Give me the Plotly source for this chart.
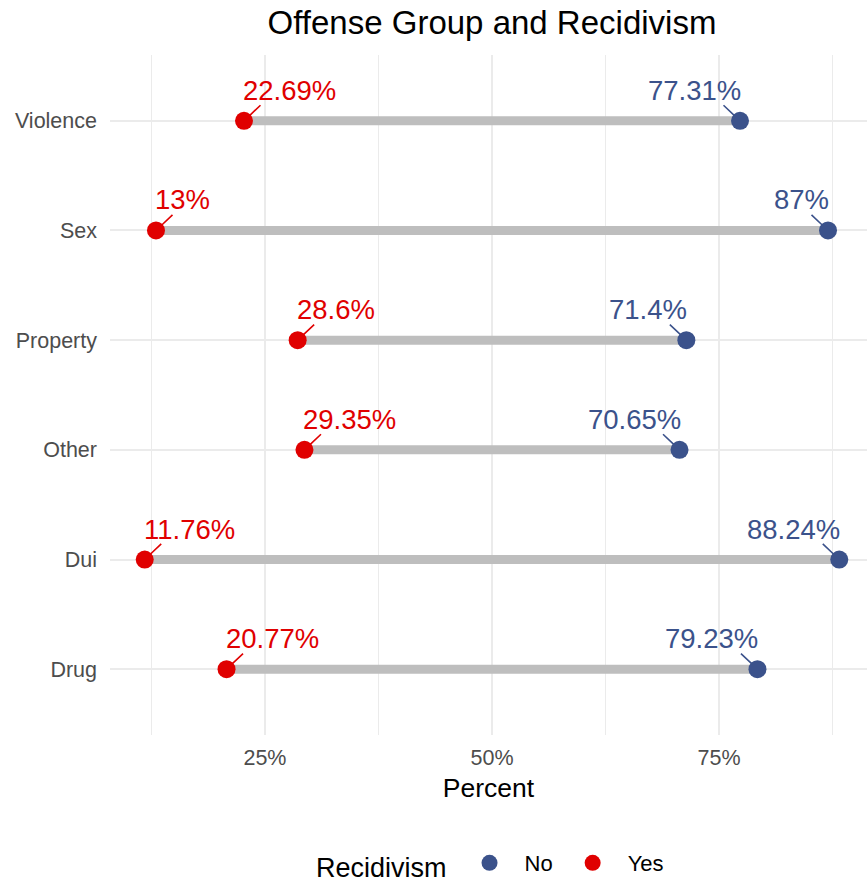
import plotly.graph_objects as go

# ---- data ----
categories = ["Drug", "Dui", "Other", "Property", "Sex", "Violence"]
no_pct = [79.23, 88.24, 70.65, 71.4, 87.0, 77.31]
yes_pct = [20.77, 11.76, 29.35, 28.6, 13.0, 22.69]
no_labels = ["79.23%", "88.24%", "70.65%", "71.4%", "87%", "77.31%"]
yes_labels = ["20.77%", "11.76%", "29.35%", "28.6%", "13%", "22.69%"]
x_tick_vals = [25, 50, 75]
x_tick_text = ["25%", "50%", "75%"]

RED = "#E00000"
BLUE = "#3B528B"
FONT = "Liberation Sans, Arial, sans-serif"

W, H = 867, 882
ML, MR, MT, MB = 110, 0, 55, 147

# x range like ggplot expansion (5%) of data range
lo = min(yes_pct + no_pct)
hi = max(yes_pct + no_pct)
pad = (hi - lo) * 0.05
full_lo, full_hi = lo - pad, hi + pad
panel_px_full = 764  # ggplot panel wider than canvas; clip at right edge
x_hi = full_lo + (W - ML - MR) * (full_hi - full_lo) / panel_px_full
x_range = [full_lo, x_hi]

fig = go.Figure()

# segments
seg_x, seg_y = [], []
for c, y_, n_ in zip(categories, yes_pct, no_pct):
    seg_x += [y_, n_, None]
    seg_y += [c, c, None]
fig.add_trace(go.Scatter(x=seg_x, y=seg_y, mode="lines",
                         line=dict(color="#BEBEBE", width=9),
                         showlegend=False, hoverinfo="skip"))

fig.add_trace(go.Scatter(x=no_pct, y=categories, mode="markers", name="No",
                         marker=dict(color=BLUE, size=18)))
fig.add_trace(go.Scatter(x=yes_pct, y=categories, mode="markers", name="Yes",
                         marker=dict(color=RED, size=18)))

annotations = []
for vals, labels, col, sign, anchor in [(yes_pct, yes_labels, RED, 1, "left"),
                                        (no_pct, no_labels, BLUE, -1, "right")]:
    for c, v, t in zip(categories, vals, labels):
        # leader segment
        annotations.append(dict(x=v, y=c, xref="x", yref="y", text="",
                                showarrow=True, arrowhead=0, arrowwidth=1.6,
                                arrowcolor=col, ax=sign * 18, ay=-17, standoff=8))
        # label text
        annotations.append(dict(x=v, y=c, xref="x", yref="y", text=t,
                                showarrow=False, xanchor=anchor, yanchor="bottom",
                                xshift=-sign * 3, yshift=13,
                                font=dict(family=FONT, size=27.5, color=col)))

fig.update_layout(
    width=W, height=H,
    margin=dict(l=ML, r=MR, t=MT, b=MB),
    paper_bgcolor="white", plot_bgcolor="white",
    font=dict(family=FONT, color="black"),
    title=dict(text="Offense Group and Recidivism", x=492 / W, xref="container",
               xanchor="center", y=1 - 22 / H, yref="container", yanchor="middle",
               font=dict(size=33, color="black")),
    annotations=annotations,
    legend=dict(orientation="h", x=314 / W, xref="container", xanchor="left",
                y=1 - 865 / H, yref="container", yanchor="middle",
                title=dict(text="Recidivism", font=dict(size=27, color="black"), side="left"),
                font=dict(size=22, color="black"), itemsizing="trace",
                itemwidth=60, valign="middle"),
)

fig.update_xaxes(range=x_range, tickvals=x_tick_vals, ticktext=x_tick_text,
                 showgrid=True, gridcolor="#EBEBEB", gridwidth=2,
                 minor=dict(dtick=12.5, tick0=12.5, showgrid=True, gridcolor="#EBEBEB", gridwidth=1.2),
                 zeroline=False, showline=False, ticks="",
                 ticklabelstandoff=7,
                 tickfont=dict(size=21.5, color="#4D4D4D"),
                 title=dict(text="Percent", font=dict(size=26.5, color="black"), standoff=9))

fig.update_yaxes(type="category", categoryorder="array", categoryarray=categories,
                 range=[-0.6, len(categories) - 0.4],
                 showgrid=True, gridcolor="#EBEBEB", gridwidth=2,
                 zeroline=False, showline=False, ticks="",
                 ticklabelstandoff=12,
                 tickfont=dict(size=21.5, color="#4D4D4D"))

fig.write_html("out.html", config={"displayModeBar": False},
               post_script="document.body.style.margin='0px';")
